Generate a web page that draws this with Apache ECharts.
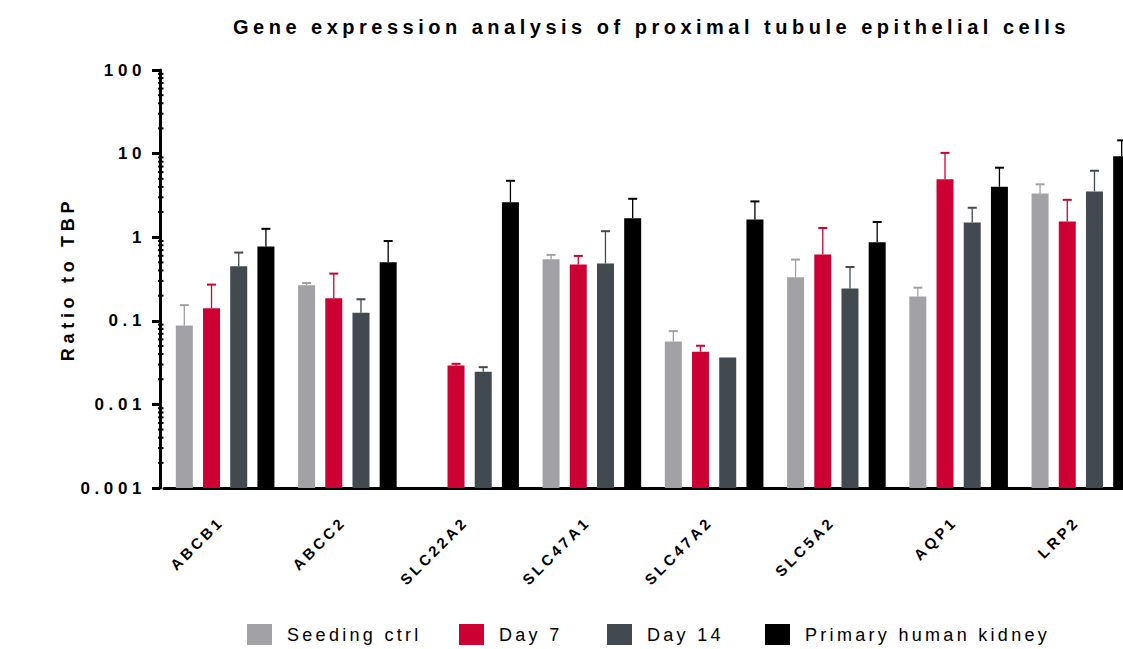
<!DOCTYPE html>
<html>
<head>
<meta charset="utf-8">
<script src="https://cdn.jsdelivr.net/npm/echarts@6/dist/echarts.min.js"></script>
<style>
html,body{margin:0;padding:0;background:#fff;width:1123px;height:649px;overflow:hidden;}
#chart{width:1160px;height:649px;}
</style>
</head>
<body>
<div id="chart"></div>
<script>
// ---- data ----
const categories = ['ABCB1', 'ABCC2', 'SLC22A2', 'SLC47A1', 'SLC47A2', 'SLC5A2', 'AQP1', 'LRP2'];
const seriesNames = ['Seeding ctrl', 'Day 7', 'Day 14', 'Primary human kidney'];
const seedingMean  = [0.088, 0.266, null,   0.545, 0.0566, 0.331, 0.195, 3.34];
const seedingUpper = [0.154, 0.283, null,   0.614, 0.0753, 0.54,  0.249, 4.29];
const day7Mean     = [0.141, 0.186, 0.0292, 0.471, 0.0426, 0.62,  4.92,  1.54];
const day7Upper    = [0.271, 0.367, 0.0306, 0.597, 0.0503, 1.29,  10.2,  2.80];
const day14Mean    = [0.449, 0.125, 0.0245, 0.484, 0.0364, 0.243, 1.50,  3.53];
const day14Upper   = [0.655, 0.181, 0.0279, 1.18,  0.0364, 0.44,  2.25,  6.24];
const kidneyMean   = [0.773, 0.50,  2.61,   1.68,  1.63,   0.871, 4.01,  9.29];
const kidneyUpper  = [1.26,  0.90,  4.73,   2.88,  2.68,   1.52,  6.78,  14.4];
const yTickLabels  = ['0.001', '0.01', '0.1', '1', '10', '100'];
const minorTickValues = [];
[0.001, 0.01, 0.1, 1, 10].forEach(d => { for (let m = 2; m <= 9; m++) minorTickValues.push(+(d * m).toPrecision(3)); });

// ---- style ----
const colors = ['#A2A1A6', '#CC0033', '#414951', '#000000'];
const FONT = 'Liberation Sans, Arial, Helvetica, sans-serif';
const BAR_W = 17, GAP = 10.2;
const Y_MIN = 0.001, Y_MAX = 100;
const legendLeft = [247, 459, 607, 765];

const means = [seedingMean, day7Mean, day14Mean, kidneyMean];
const uppers = [seedingUpper, day7Upper, day14Upper, kidneyUpper];

function makeRender(slot, color) {
  return function (params, api) {
    const i = api.value(0), v = api.value(1), up = api.value(2);
    const base = api.coord([i, Y_MIN]);
    const top = api.coord([i, v]);
    const upP = api.coord([i, up]);
    const cx = base[0] + (slot - 1.5) * (BAR_W + GAP);
    const children = [{
      type: 'rect',
      shape: { x: cx - BAR_W / 2, y: top[1], width: BAR_W, height: base[1] - top[1] },
      style: { fill: color }
    }];
    if (upP[1] < top[1] - 0.5) {
      children.push({
        type: 'line',
        shape: { x1: cx, y1: top[1], x2: cx, y2: upP[1] },
        style: { stroke: color, lineWidth: 1.3 }
      });
      children.push({
        type: 'line',
        shape: { x1: cx - 4.5, y1: upP[1], x2: cx + 4.5, y2: upP[1] },
        style: { stroke: color, lineWidth: 2 }
      });
    }
    return { type: 'group', children };
  };
}

const series = seriesNames.map((name, k) => ({
  type: 'custom',
  name,
  itemStyle: { color: colors[k] },
  renderItem: makeRender(k, colors[k]),
  encode: { x: 0, y: 1 },
  clip: false,
  data: categories.map((c, i) => [i, means[k][i], uppers[k][i]]).filter(d => d[1] != null)
}));

series.push({
  type: 'custom',
  name: 'minor',
  silent: true,
  renderItem: function (params, api) {
    const p = api.coord([0, api.value(1)]);
    const x0 = params.coordSys.x;
    return {
      type: 'line',
      shape: { x1: x0 - 6, y1: p[1], x2: x0 - 0.5, y2: p[1] },
      style: { stroke: '#000', lineWidth: 2 }
    };
  },
  encode: { x: 0, y: 1 },
  data: minorTickValues.map(v => [0, v])
});

const chart = echarts.init(document.getElementById('chart'), null, { renderer: 'svg' });
chart.setOption({
  animation: false,
  backgroundColor: '#fff',
  title: {
    text: 'Gene expression analysis of proximal tubule epithelial cells',
    left: 233,
    top: 17,
    padding: 0,
    textStyle: { fontFamily: FONT, fontSize: 20, fontWeight: 'bold', color: '#000' }
  },
  legend: seriesNames.map((n, k) => ({
    data: [n],
    left: legendLeft[k],
    top: 624,
    padding: 0,
    itemWidth: 25,
    itemHeight: 21,
    icon: 'rect',
    selectedMode: false,
    textStyle: { fontFamily: FONT, fontSize: 18, color: '#000', padding: [3, 0, 0, 10] }
  })),
  grid: { left: 164, top: 70, width: 978, height: 418, containLabel: false },
  xAxis: {
    type: 'category',
    data: categories,
    axisLine: { lineStyle: { color: '#000', width: 3 } },
    axisTick: { alignWithLabel: true, length: 8, lineStyle: { color: '#000', width: 3 } },
    axisLabel: {
      interval: 0, rotate: 45, margin: 27, padding: [0, 6, 0, 0],
      fontFamily: FONT, fontSize: 15, fontWeight: 'bold', color: '#000'
    },
    splitLine: { show: false }
  },
  yAxis: {
    type: 'log',
    logBase: 10,
    min: Y_MIN,
    max: Y_MAX,
    offset: 4,
    name: 'Ratio to TBP',
    nameLocation: 'middle',
    nameGap: 83,
    nameTextStyle: { fontFamily: FONT, fontSize: 18, fontWeight: 'bold', color: '#000' },
    axisLine: { show: true, lineStyle: { color: '#000', width: 3 } },
    axisTick: { show: true, length: 8, lineStyle: { color: '#000', width: 3 } },
    splitLine: { show: false },
    axisLabel: {
      margin: 14,
      fontFamily: FONT, fontSize: 17, fontWeight: 'bold', color: '#000',
      formatter: function (v) {
        const idx = Math.round(Math.log10(v) + 3);
        return yTickLabels[idx] !== undefined ? yTickLabels[idx] : '';
      }
    }
  },
  series
});

// letter spacing, as in the reference
const spacing = { '20-700': 4.5, '17-700': 4.6, '15-700': 3.3, '18-700': 4.7, '18-400': 3.3 };
document.querySelectorAll('#chart svg text').forEach(t => {
  const cs = getComputedStyle(t);
  const key = Math.round(parseFloat(cs.fontSize)) + '-' + (parseInt(cs.fontWeight) >= 600 ? '700' : '400');
  if (spacing[key] !== undefined) t.style.letterSpacing = spacing[key] + 'px';
});
</script>
</body>
</html>
